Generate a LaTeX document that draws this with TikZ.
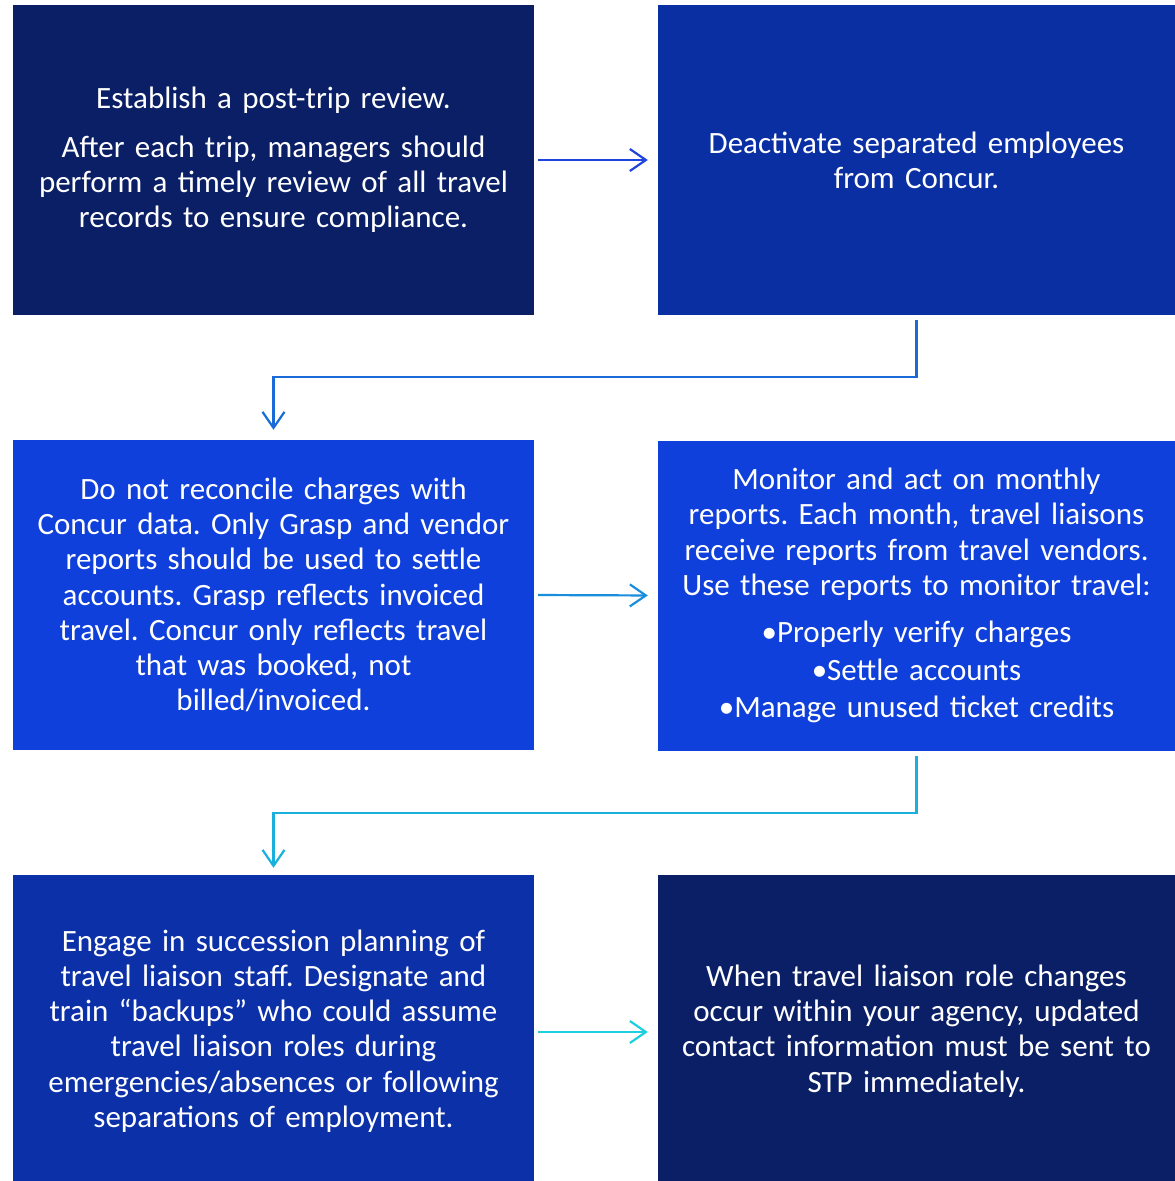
\documentclass[tikz,border=0pt]{standalone}
\usepackage{fontspec}
\setmainfont{Carlito}
\frenchspacing
\usetikzlibrary{arrows.meta}
\definecolor{navy}{HTML}{0A1F66}
\definecolor{royal}{HTML}{0A2FA3}
\definecolor{bright}{HTML}{1040DB}
\definecolor{rowthree}{HTML}{0C30A8}
\definecolor{aone}{HTML}{1E44E0}
\definecolor{atwo}{HTML}{1A6AD8}
\definecolor{athree}{HTML}{1A8EDC}
\definecolor{afour}{HTML}{1AB0DC}
\definecolor{afive}{HTML}{1DCFDF}
\tikzset{
  box/.style={draw=none, minimum width=521pt, minimum height=310pt, inner sep=0pt,
    text=white, align=center, text width=515pt,
    font=\fontsize{31}{35.2}\selectfont},
  rbox/.style={box, minimum width=517pt, text width=511pt},
  conn/.style={line width=2.2pt, -{Straight Barb[length=16pt,width=22pt]}},
}
\begin{document}
\begin{tikzpicture}[x=1pt,y=-1pt]
\useasboundingbox (0,0) rectangle (1175,1181);
\fill[white] (0,0) rectangle (1175,1181);
\node[box, fill=navy] (b1) at (273.5,160) {Establish a post-trip review.\\[13pt]After each trip, managers should\\perform a timely review of all travel\\records to ensure compliance.};
\node[rbox, fill=royal] (b2) at (916.5,160) {Deactivate separated employees\\from Concur.};
\node[box, fill=bright] (b3) at (273.5,595) {Do not reconcile charges with\\Concur data. Only Grasp and vendor\\reports should be used to settle\\accounts. Grasp reflects invoiced\\travel. Concur only reflects travel\\that was booked, not\\billed/invoiced.};
\node[rbox, fill=bright] (b4) at (916.5,595.5) {Monitor and act on monthly\\reports. Each month, travel liaisons\\receive reports from travel vendors.\\Use these reports to monitor travel:\\[12pt]•Properly verify charges\\[2.3pt]•Settle accounts\\[2.3pt]•Manage unused ticket credits};
\node[box, fill=rowthree, minimum height=312pt] (b5) at (273.5,1031) {Engage in succession planning of\\travel liaison staff. Designate and\\train “backups” who could assume\\travel liaison roles during\\emergencies/absences or following\\separations of employment.};
\node[rbox, fill=navy, minimum height=312pt] (b6) at (916.5,1031) {When travel liaison role changes\\occur within your agency, updated\\contact information must be sent to\\STP immediately.};
\draw[conn, aone, shorten <=4pt, shorten >=10pt] (b1.east) -- (b2.west);
\draw[conn, atwo, shorten <=5pt, shorten >=10pt] (b2.south) -- ++(0,62) -| (b3.north);
\draw[conn, athree, shorten <=4pt, shorten >=10pt] (b3.east) -- (b4.west);
\draw[conn, afour, shorten <=5pt, shorten >=10pt] (b4.south) -- ++(0,62) -| ([yshift=-3pt]b5.north);
\draw[conn, afive, shorten <=4pt, shorten >=10pt] ([yshift=-1pt]b5.east) -- ([yshift=-1pt]b6.west);
\end{tikzpicture}
\end{document}
